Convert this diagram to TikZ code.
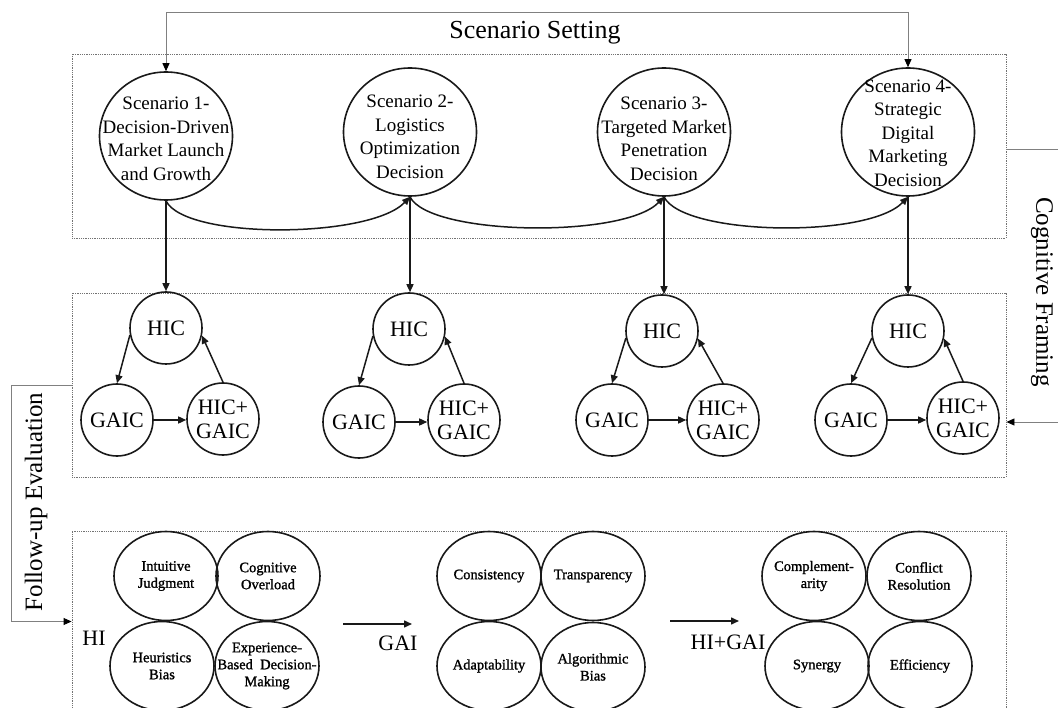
\documentclass[tikz,border=0pt]{standalone}
\usepackage{fontspec}
\setmainfont{Liberation Serif}
\newfontfamily\ovalfont[FakeBold=1.2]{Liberation Serif}
\usetikzlibrary{arrows.meta,shapes.geometric,calc}
\begin{document}
\begin{tikzpicture}[x=1pt,y=-1pt,
  ink/.style={draw=black!90, line width=1.6pt},
  scen/.style={ellipse, ink, minimum width=133pt, minimum height=128pt, inner sep=0pt},
  scentext/.style={align=center, font=\fontsize{19}{23.5}\selectfont, inner sep=0pt},
  cog/.style={circle, ink, minimum size=72pt, inner sep=0pt, align=center, font=\fontsize{22}{24}\selectfont},
  oval/.style={ellipse, ink, minimum width=104pt, minimum height=89pt, inner sep=0pt},
  ovaltext/.style={align=center, font=\ovalfont\fontsize{14.5}{17}\selectfont, inner sep=0pt},
  dotbox/.style={draw=black!55, line width=0.9pt, dash pattern=on 0.9pt off 0.9pt, minimum width=934pt, inner sep=0pt},
  flow/.style={line width=1.5pt, draw=black!90, -{Triangle[length=8pt,width=7pt]}},
  thinline/.style={draw=black!50, line width=0.9pt},
  thintip/.style={thinline, -{Triangle[length=8pt,width=7pt,color=black]}},
  big/.style={font=\fontsize{25}{30}\selectfont, inner sep=0pt},
  grp/.style={font=\fontsize{22}{26}\selectfont, inner sep=0pt}
]
\useasboundingbox (0,0) rectangle (1058,708);
\fill[white] (0,0) rectangle (1058,708);

% frames of the three layers
\node[dotbox, minimum height=184pt] (box1) at (539,146) {};
\node[dotbox, minimum height=184pt] (box2) at (539,385) {};
\node[dotbox, minimum height=181pt] (box3) at (539,621.5) {};

% scenarios
\node[scen] (s1) at (166,136) {};
\node[scen] (s2) at (410,132) {};
\node[scen] (s3) at (664,132) {};
\node[scen] (s4) at (908,132) {};
\node[scentext] (s1t) at (166,139) {Scenario 1-\\Decision-Driven\\Market Launch\\and Growth};
\node[scentext] (s2t) at (410,137) {Scenario 2-\\Logistics\\Optimization\\Decision};
\node[scentext] (s3t) at (664,139) {Scenario 3-\\Targeted Market\\Penetration\\Decision};
\node[scentext] (s4t) at (908,133) {Scenario 4-\\Strategic\\Digital\\Marketing\\Decision};

% scenario setting loop
\node[font=\fontsize{26}{30}\selectfont, inner sep=0pt] (setting) at (535,33) {Scenario Setting};
\coordinate (top) at (535,12.5);
\draw[thinline, {Triangle[length=8pt,width=7pt,color=black]}-{Triangle[length=8pt,width=7pt,color=black]}]
  (s1.north) -- (s1.north |- top) -- (s4.north |- top) -- (s4.north);

% links between consecutive scenarios
\draw[flow] (s1.south) .. controls +(19,39) and +(-40,42) .. (s2.south);
\draw[flow] (s2.south) .. controls +(19,39) and +(-40,42) .. (s3.south);
\draw[flow] (s3.south) .. controls +(19,39) and +(-40,42) .. (s4.south);

% cognitive triads
\foreach \i/\hx/\hy/\gx/\gy/\bx/\by in {1/166/328/117/420/223/419, 2/409/329/359/422/464/420,
    3/662/331/612/420/723/420, 4/908/331/851/420/963/418}{
  \node[cog] (hic\i) at (\hx,\hy) {HIC};
  \node[cog] (gaic\i) at (\gx,\gy) {GAIC};
  \node[cog] (both\i) at (\bx,\by) {HIC+\\GAIC};
  \draw[flow] (hic\i.191) -- (gaic\i.north);
  \draw[flow] (gaic\i.east) -- (gaic\i.east -| both\i.west);
  \draw[flow] (both\i.north) -- (hic\i.348);
  \draw[flow] (s\i.south) -- (s\i.south |- hic\i.north);
}

% cognitive framing feedback
\node[big, rotate=-90] (framing) at (1042,292) {Cognitive Framing};
\draw[thintip] ([yshift=-3pt]box1.east) -- ++(56,0) |- ([yshift=-37pt]box2.east);

% follow-up evaluation
\node[big, rotate=90] (followup) at (36,502) {Follow-up Evaluation};
\draw[thintip] (box2.west) -- ++(-60,0) |- (box3.west);

% evaluation dimensions
\newcommand\ovalnode[3]{\node[oval] (#1) at (#2) {}; \node[ovaltext] (#1-t) at (#1) {#3};}
\ovalnode{ij}{166,576}{Intuitive\\Judgment}
\ovalnode{co}{268,576}{Cognitive\\Overload}
\ovalnode{hb}{162,666}{Heuristics\\Bias}
\ovalnode{eb}{267,666}{Experience-\\Based\ \ Decision-\\Making}
\ovalnode{cs}{489,576}{Consistency}
\ovalnode{tr}{593,576}{Transparency}
\ovalnode{ad}{489,666}{Adaptability}
\ovalnode{ab}{593,667}{Algorithmic\\Bias}
\ovalnode{cm}{814,576}{Complement-\\arity}
\ovalnode{cr}{919,576}{Conflict\\Resolution}
\ovalnode{sy}{817,666}{Synergy}
\ovalnode{ef}{920,666}{Efficiency}

\node[grp] (hi) at (94,638) {HI};
\node[grp] (gai) at (398,643) {GAI};
\node[grp] (higai) at (728,642) {HI+GAI};
\coordinate (a1s) at (343,624);
\coordinate (a1e) at (412,624);
\coordinate (a2s) at (670,621);
\coordinate (a2e) at (739,621);
\draw[flow] (a1s) -- (a1e);
\draw[flow] (a2s) -- (a2e);
\end{tikzpicture}
\end{document}
